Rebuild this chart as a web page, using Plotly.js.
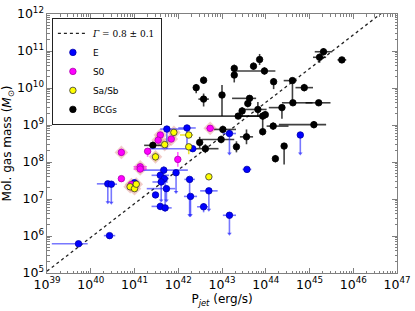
<!DOCTYPE html>
<html><head><meta charset="utf-8">
<script src="https://cdn.plot.ly/plotly-3.0.1.min.js"></script>
<style>html,body{margin:0;padding:0;background:#fff}#chart{width:415px;height:311px}</style>
</head><body><div id="chart"></div>
<script>
// ---- data (log10 values; errors in dex) ----
const eLogP = [39.72,40.43,40.39,40.47,41.00,41.74,42.20,42.33,41.67,41.59,41.68,41.61,41.95,42.26,42.70,41.48,41.73,42.28,41.59,41.70,42.58,43.17,43.57,43.17,44.79];
const eLogM = [5.79,6.01,7.41,7.40,7.44,8.89,8.92,8.36,7.78,7.64,7.55,7.46,7.71,7.53,7.22,7.11,7.28,7.07,6.80,6.76,6.79,8.77,7.80,6.56,8.73];
const eXm = [0.61,0.13,0.25,0.05,0.10,0.15,0.20,1.00,0.60,0.20,0.10,0.20,0.05,0.12,0.20,0,0.45,0.15,0.20,0.15,0.15,0.15,0.10,0.15,0.05];
const eXp = [0.21,0.13,0.10,0.13,0.10,0.40,0.20,0.10,0.55,0.20,0.10,0.15,0.05,0.12,0.20,0,0.20,0.15,0.15,0.15,0.10,0.15,0.10,0.15,0.05];
const eYm = [0.05,0.05,0.50,0.50,0.05,0.53,0.55,0.05,0.10,0.10,0.10,0.50,0.52,0.97,0.51,0,0.32,0.51,0.10,0.10,0.15,0.54,0.05,0.50,0.50];
const eYp = [0.05,0.05,0,0,0.05,0,0,0.05,0.10,0.10,0.10,0.10,0,0,0,0,0.10,0,0.10,0.84,0.10,0,0.05,0,0];
const eLimit = [0,0,1,1,0,0,0,0,0,0,0,1,1,1,1,0,1,1,0,0,0,1,0,1,1];

const s0LogP = [40.70,41.30,41.13,41.13,40.70,41.59,41.54,41.84,41.99,42.73,40.93];
const s0LogM = [8.26,8.29,7.87,7.81,7.55,8.73,8.59,8.62,8.07,8.91,7.39];
const s0Xm = [0.05,0.05,0.15,0.15,0,0.05,0.05,0.05,0.05,0.10,0.05];
const s0Xp = [0.05,0.05,0.15,0.15,0,0.05,0.05,0.05,0.05,0.10,0.05];
const s0Ym = [0.10,0.15,0.05,0.05,0,0.05,0.05,0.05,0.20,0.05,0.05];
const s0Yp = [0.10,0.05,0.05,0.05,0,0.05,0.05,0.05,0.20,0.05,0.05];
const s0Halo = [1,0,1,1,0,1,1,1,0,1,1];

const sabLogP = [41.90,41.69,42.24,42.24,41.48,42.70,40.90,41.00,41.04];
const sabLogM = [8.80,8.47,8.73,8.41,8.14,7.60,7.33,7.28,7.40];
const sabXm = [0.05,0.05,0.20,0.05,0.05,0,0.05,0.05,0.05];
const sabXp = [0.05,0.05,0.10,0.05,0.05,0,0.05,0.05,0.05];
const sabYm = [0.05,0.05,0.05,0.20,0.12,0,0.05,0.05,0.05];
const sabYp = [0.05,0.05,0.05,0.05,0.12,0,0.05,0.05,0.05];
const sabHalo = [1,1,0,0,1,0,1,1,1];

const bcgLogP = [41.42,42.49,42.62,43.02,42.98,43.33,43.00,42.41,42.58,42.58,43.28,43.28,43.72,43.86,43.97,44.18,44.61,44.88,44.62,45.21,44.37,43.63,43.59,43.46,43.37,43.82,43.93,43.99,43.93,44.17,43.56,44.22,44.42,45.10,45.23,45.32,45.74];
const bcgLogM = [8.45,8.53,8.36,8.88,8.61,8.41,9.81,10.01,10.21,9.70,10.35,10.53,10.59,10.77,10.46,10.17,10.20,10.01,9.60,9.60,9.47,9.72,9.58,9.38,9.24,9.42,9.24,9.28,8.82,8.97,8.68,8.09,8.43,9.01,10.83,10.98,10.76];
const bcgXm = [0.2,0.05,0.3,0.2,0.45,0.05,0.05,0.05,0.05,0.12,0.05,0.05,0.05,0.05,0.7,0.05,0.2,0.2,0.25,0.3,0.3,0.4,0.05,0.05,1.36,0.3,0.6,0.05,0.05,0.15,0.15,0.05,0.05,0.8,0.15,0.2,0.1];
const bcgXp = [0.2,0.05,0.3,0.3,0.3,0.05,0.05,0.05,0.05,0.12,0.05,0.05,0.05,0.05,0.25,0.05,0.1,0.2,0.45,0.27,0.05,0.15,0.05,0.05,0.6,0.2,0.1,0.05,0.05,0.35,0.15,0.05,0.05,0.28,0.15,0.2,0.1];
const bcgYm = [0.1,0.15,0.12,0.1,0.1,0.15,0.57,0.15,0.1,0.2,0.2,0.1,0.1,0.15,0.1,0.2,0.6,0.1,0.05,0.05,0.3,0.05,0.1,0.15,0.05,0.2,0.1,0.1,0.1,0.1,0.2,0.1,0.5,0.1,0.15,0.1,0.05];
const bcgYp = [0.1,0.15,0.12,0.1,0.1,0.15,0.27,0.1,0.1,0.15,0.1,0.1,0.1,0.15,0.1,0.1,0.05,0.1,0.05,0.05,0.05,0.05,0.1,0.1,0.05,0.2,0.1,0.1,0.4,0.1,0.2,0.1,0.05,0.1,0.1,0.1,0.05];

// fit relation (log M = fitA + fitB*(log P - 39))
const fitA = 5.05, fitB = 0.912;
const fitLogP = [39, 47];

// ---- helpers ----
const p10 = v => Math.pow(10, v);
const lin = a => a.map(p10);
const errP = (l, d) => l.map((v, i) => p10(v + d[i]) - p10(v));
const errM = (l, d) => l.map((v, i) => p10(v) - p10(v - d[i]));

function series(name, lx, ly, xm, xp, ym, yp, color, edge, ecolor, rank) {
  return {
    type: 'scatter', mode: 'markers', name: name, legendrank: rank,
    x: lin(lx), y: lin(ly),
    marker: {color: color, size: 6.5, line: {color: edge, width: 0.8}},
    error_x: {type: 'data', symmetric: false, array: errP(lx, xp), arrayminus: errM(lx, xm), color: ecolor, thickness: 1.6, width: 0},
    error_y: {type: 'data', symmetric: false, array: errP(ly, yp), arrayminus: errM(ly, ym), color: ecolor, thickness: 1.6, width: 0}
  };
}

const haloX = [], haloY = [];
s0Halo.forEach((h, i) => { if (h) { haloX.push(p10(s0LogP[i])); haloY.push(p10(s0LogM[i])); } });
sabHalo.forEach((h, i) => { if (h) { haloX.push(p10(sabLogP[i])); haloY.push(p10(sabLogM[i])); } });

const limX = [], limY = [];
eLimit.forEach((f, i) => { if (f) { limX.push(p10(eLogP[i])); limY.push(p10(eLogM[i] - eYm[i])); } });

const traces = [
  {type:'scatter', mode:'lines', name:'<span style="font-family:DejaVu Serif"><i>Γ</i> = 0.8 ± 0.1</span>', legendrank: 1,
   x: lin(fitLogP), y: fitLogP.map(v => p10(fitA + fitB * (v - 39))),
   line: {color: '#222', width: 1.3, dash: 'dot'}},
  {type:'scatter', mode:'markers', showlegend:false, x: haloX, y: haloY, hoverinfo:'skip',
   marker:{symbol:'diamond', size:10.5, color:'rgba(220,130,120,0.4)', line:{width:0}}},
  {type:'scatter', mode:'markers', showlegend:false, x: limX, y: limY, hoverinfo:'skip',
   marker:{symbol:'triangle-down', size:4, color:'rgba(40,40,255,0.7)', line:{width:0}}},
  series('BCGs', bcgLogP, bcgLogM, bcgXm, bcgXp, bcgYm, bcgYp, '#000000', '#000000', 'rgba(0,0,0,0.75)', 5),
  series('E', eLogP, eLogM, eXm, eXp, eYm, eYp, '#0000ff', '#0000aa', 'rgba(30,30,255,0.6)', 2),
  series('S0', s0LogP, s0LogM, s0Xm, s0Xp, s0Ym, s0Yp, '#ff00ff', '#aa00aa', 'rgba(255,0,255,0.6)', 3),
  series('Sa/Sb', sabLogP, sabLogM, sabXm, sabXp, sabYm, sabYp, '#ffff00', '#333333', 'rgba(230,220,0,0.8)', 4)
];

const axisCommon = {
  type: 'log', dtick: 1, exponentformat: 'power', showgrid: false, zeroline: false,
  showline: true, linecolor: '#808080', linewidth: 1, mirror: 'allticks',
  ticks: 'inside', ticklen: 5, tickcolor: '#808080', tickwidth: 1,
  minor: {ticks: 'inside', ticklen: 2.5, tickcolor: '#808080', showgrid: false},
  tickfont: {family: 'DejaVu Sans', size: 10, color: '#000'}
};

const layout = {
  width: 415, height: 311,
  margin: {l: 47, r: 18, t: 14, b: 38},
  paper_bgcolor: '#fff', plot_bgcolor: '#fff',
  font: {family: 'DejaVu Sans', color: '#000'},
  showlegend: true,
  legend: {x: 0.014, y: 0.985, xanchor: 'left', yanchor: 'top', bgcolor: '#fff', bordercolor: '#222', borderwidth: 1,
           font: {family: 'DejaVu Sans', size: 9}, tracegroupgap: 0, itemwidth: 30},
  xaxis: Object.assign({}, axisCommon, {range: [39, 47],
    title: {text: 'P<sub><i>jet</i></sub> (erg/s)', font: {size: 12}, standoff: 4}}),
  yaxis: Object.assign({}, axisCommon, {range: [5, 12],
    title: {text: 'Mol. gas mass (<i>M</i><sub>⊙</sub>)', font: {size: 12}, standoff: 6}})
};

Plotly.newPlot('chart', traces, layout, {displayModeBar: false, staticPlot: true});
</script></body></html>
